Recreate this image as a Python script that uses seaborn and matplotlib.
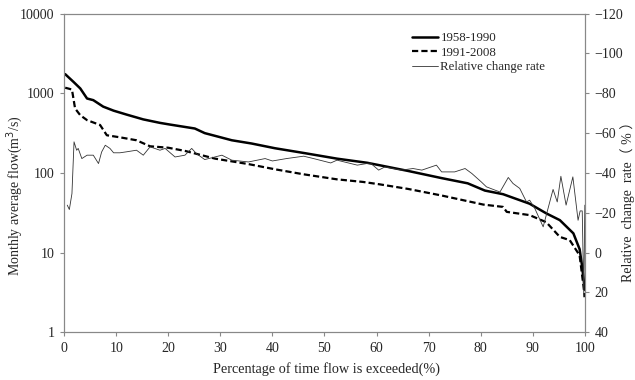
import numpy as np
import pandas as pd
import seaborn as sns
import matplotlib.pyplot as plt
from matplotlib.ticker import FixedLocator, NullLocator

# 1958-1990 flow duration curve
x_p1 = [0.2, 1.8, 3.1, 4.4, 5.6, 7.5, 9.5, 12, 15.2, 18.4, 20.3, 25.1, 27, 32.2, 36,
        40.5, 46, 52.4, 58.2, 60.8, 66, 72.5, 77.5, 80.8, 84.3, 89.4, 92.6, 95.2,
        97.8, 99, 99.4, 100]
flow_p1 = [1740, 1390, 1150, 860, 820, 680, 605, 540, 470, 425, 405, 361, 316, 257, 234,
           204, 178, 151, 134, 124, 106, 86, 74, 60, 54, 41, 31, 25.5,
           17.4, 11, 7.3, 3.4]

# 1991-2008 flow duration curve
x_p2 = [0.2, 1.5, 2.1, 3.1, 4.4, 5.6, 6.9, 8.2, 10.7, 13.9, 16.5, 20, 23.2, 29, 35.4,
        40.5, 46, 52.4, 57.4, 60.5, 66, 72.5, 80.5, 84.3, 85, 89.4, 92.6, 95.2,
        97.1, 99, 100]
flow_p2 = [1175, 1115, 645, 530, 460, 430, 400, 297, 280, 257, 216, 207, 189, 151, 129,
           111, 96, 83, 77, 72, 63, 52, 40, 37.4, 32.4, 29.5, 24, 15.7,
           14.3, 9.2, 2.75]

# relative change rate (%), right axis
x_rc = [0.6, 1.0, 1.5, 1.9, 2.4, 2.7, 3.4, 4.4, 5.6, 6.6, 7.2, 7.9, 8.8, 9.5, 10.7,
        12, 13.9, 15.2, 16.5, 18.4, 19.4, 21.3, 23.2, 24.5, 25.4, 27, 30.3, 32.2,
        35.4, 38.6, 40, 42.7, 46, 47.9, 51.2, 52.4, 56.3, 58.8, 60.4, 61.6, 64.8,
        67, 68.7, 71.5, 72.5, 75, 77, 78.3, 80.1, 81.1, 83.7, 85.3, 86.2, 87.5,
        88.8, 89.4, 90.4, 92, 93.9, 94.7, 95.4, 96.4, 97.7, 98.7, 99.1, 99.5,
        99.8, 100]
rate = [-23.8, -21.6, -29.6, -55.6, -51.4, -52.3, -47.2, -48.9, -48.9, -44.7, -50.5,
        -53.9, -52.3, -50.1, -50.1, -50.6, -51.4, -48.9, -53.1, -51.4, -52.3, -48,
        -48.9, -52.3, -49.7, -46.7, -48.9, -46.4, -45.5, -47.2, -46, -47.2, -48.4,
        -47.2, -45, -46.4, -43.9, -45, -41.4, -43, -41.4, -42.2, -41.4, -43.9,
        -40.5, -40.5, -42.2, -39.7, -35.5, -33, -30.4, -37.7, -34.7, -32.2, -25.4,
        -26.3, -22.1, -12.9, -31.7, -25.4, -38.3, -23.8, -38, -16.2, -20.9, -20.9,
        22.3, -23.8]

df1 = pd.DataFrame({'x': x_p1, 'flow': flow_p1})
df2 = pd.DataFrame({'x': x_p2, 'flow': flow_p2})
df3 = pd.DataFrame({'x': x_rc, 'rate': rate})

sns.set_style('white')
plt.rcParams['font.family'] = ['Liberation Serif', 'Noto Sans CJK SC']
plt.rcParams['axes.edgecolor'] = '#888888'
plt.rcParams['axes.linewidth'] = 0.8

fs = 10
fig = plt.figure(figsize=(6.35, 3.8), dpi=100)
ax = fig.add_axes([0.101, 0.126, 0.82, 0.838])

sns.lineplot(data=df1, x='x', y='flow', ax=ax, color='black', linewidth=1.8,
             label='1958-1990', legend=False)
sns.lineplot(data=df2, x='x', y='flow', ax=ax, color='black', linewidth=1.6,
             linestyle=(0, (2.8, 1.4)), label='1991-2008', legend=False)
ax.set_yscale('log')
ax.set_ylim(1, 10000)
ax.set_xlim(0, 100)
ax.yaxis.set_major_locator(FixedLocator([1, 10, 100, 1000, 10000]))
ax.yaxis.set_minor_locator(NullLocator())
ax.set_yticklabels(['1', '10', '100', '1000', '10000'])
ax.set_xticks(range(0, 101, 10))
ax.tick_params(axis='both', labelsize=fs, direction='out', length=3,
               color='#888888', width=0.8, bottom=True, left=True, pad=4)
ax.set_xlabel('Percentage of time flow is exceeded(%)', fontsize=fs + 0.3)
ax.set_ylabel('Monthly average flow(m$^3$/s)', fontsize=fs)
ax.xaxis.set_label_coords(0.503, -0.095)
ax.yaxis.set_label_coords(-0.076, 0.43)

ax2 = ax.twinx()
sns.lineplot(data=df3, x='x', y='rate', ax=ax2, color='#333333', linewidth=0.6,
             label='Relative change rate', legend=False)
ax2.set_ylim(40, -120)
ax2.set_yticks(range(-120, 41, 20))
ax2.tick_params(axis='y', labelsize=fs, direction='out', length=3,
                color='#888888', width=0.8, right=True, pad=4)
ax2.set_ylabel('Relative  change  rate（ % ）', fontsize=fs)
ax2.yaxis.set_label_coords(1.068, 0.42)
for s in ax2.spines.values():
    s.set_color('#888888')
    s.set_linewidth(0.8)

h1, l1 = ax.get_legend_handles_labels()
h2, l2 = ax2.get_legend_handles_labels()
ax2.legend(h1 + h2, l1 + l2, loc='upper left', bbox_to_anchor=(0.668, 0.942),
           frameon=False, fontsize=9.3, handlelength=2.0, handletextpad=0.2,
           labelspacing=0.2, borderpad=0, borderaxespad=0)

fig.savefig('out.png', dpi=100)
